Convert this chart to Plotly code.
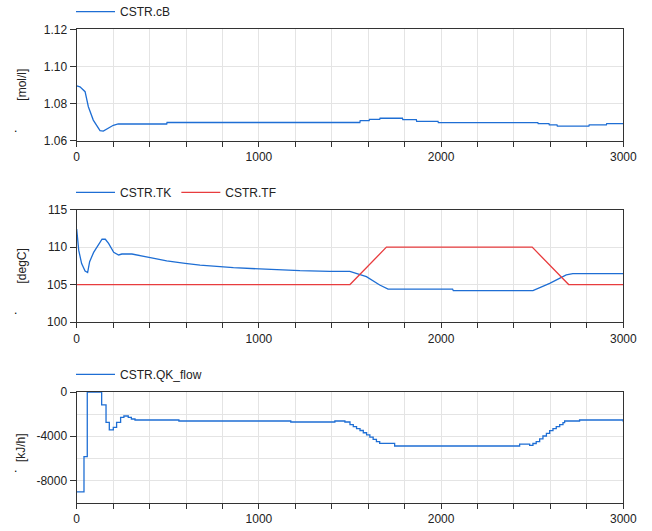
import plotly.graph_objects as go

W, H = 652, 531

# ---------------- data ----------------
cB_t = [0, 18, 46, 64, 91, 128, 146, 173, 201, 228, 494, 496, 1554, 1556, 1605, 1607,
        1663, 1665, 1788, 1790, 1864, 1866, 1983, 1985, 2531, 2533, 2592, 2594,
        2636, 2638, 2811, 2813, 2907, 2909, 3000]
cB_v = [1.0895, 1.089, 1.0864, 1.0783, 1.0711, 1.0654, 1.0652, 1.0667, 1.0683, 1.069,
        1.069, 1.0698, 1.0698, 1.0708, 1.0708, 1.0715, 1.0715, 1.0721, 1.0721, 1.0713,
        1.0713, 1.0704, 1.0704, 1.0697, 1.0697, 1.0692, 1.0692, 1.0685, 1.0685, 1.0679,
        1.0679, 1.0685, 1.0685, 1.0692, 1.0692]

TK_t = [0, 11, 27, 46, 60, 71, 93, 121, 139, 157, 175, 203, 230, 248, 303, 404, 494,
        595, 677, 860, 1043, 1225, 1390, 1499, 1590, 1663, 1709, 2063, 2067, 2504,
        2596, 2687, 2723, 3000]
TK_v = [112.4, 109.6, 107.8, 106.8, 106.6, 108.05, 109.3, 110.3, 111.05, 111.05, 110.5,
        109.3, 108.95, 109.08, 109.08, 108.6, 108.15, 107.84, 107.6, 107.25, 107.04,
        106.85, 106.77, 106.77, 106.05, 104.94, 104.4, 104.4, 104.18, 104.18, 105.17,
        106.28, 106.45, 106.45]

TF_t = [0, 1500, 1700, 2500, 2700, 3000]
TF_v = [105, 105, 110, 110, 105, 105]

QK_t = [0, 40, 58, 137, 161, 179, 201, 219, 241, 259, 283, 300, 320, 561, 1175, 1417,
        1472, 1500, 1518, 1536, 1555, 1573, 1591, 1609, 1627, 1645, 1663, 1745, 2431,
        2486, 2504, 2522, 2541, 2559, 2578, 2596, 2614, 2632, 2651, 2669, 2678, 2760, 3000]
QK_v = [-9030, -5840, 0, -1170, -2740, -3430, -3190, -2740, -2290, -2170, -2290, -2440,
        -2530, -2620, -2710, -2620, -2710, -2950, -3130, -3300, -3480, -3680, -3880,
        -4080, -4280, -4480, -4640, -4880, -4700, -4820, -4650, -4490, -4230, -3975,
        -3730, -3490, -3300, -3130, -2950, -2770, -2620, -2530, -2710]

x_ticks = [0, 1000, 2000, 3000]
y1_ticks = [1.06, 1.08, 1.10, 1.12]
y2_ticks = [100, 105, 110, 115]
y3_ticks = [-8000, -4000, 0]
y3_text = ["-8000", "-4000", "0"]

names = ["CSTR.cB", "CSTR.TK", "CSTR.TF", "CSTR.QK_flow"]
units = ["[mol/l]", "[degC]", "[kJ/h]"]

BLUE = "rgb(30,110,212)"
RED = "rgb(232,60,62)"
FONT = "Liberation Sans, Arial, sans-serif"

# ---------------- layout geometry (px) ----------------
xl, xr = 76.7, 623.3
panels = [(29.3, 140.7), (209.7, 322.0), (392.0, 502.7)]


def ydom(p):
    return [1 - p[1] / H, 1 - p[0] / H]


fig = go.Figure()
fig.add_trace(go.Scatter(x=cB_t, y=cB_v, name=names[0], mode="lines",
                         line=dict(color=BLUE, width=1.3), xaxis="x", yaxis="y",
                         legend="legend"))
fig.add_trace(go.Scatter(x=TK_t, y=TK_v, name=names[1], mode="lines",
                         line=dict(color=BLUE, width=1.3), xaxis="x2", yaxis="y2",
                         legend="legend2"))
fig.add_trace(go.Scatter(x=TF_t, y=TF_v, name=names[2], mode="lines",
                         line=dict(color=RED, width=1.3), xaxis="x2", yaxis="y2",
                         legend="legend2"))
fig.add_trace(go.Scatter(x=QK_t, y=QK_v, name=names[3], mode="lines",
                         line=dict(color=BLUE, width=1.3, shape="hv"), xaxis="x3", yaxis="y3",
                         legend="legend3"))

AX_COL = "#333333"
GRID = "#e4e4e4"

xcommon = dict(range=[0, 3000], domain=[xl / W, xr / W], tickmode="array",
               tickvals=x_ticks, ticks="outside", ticklen=5, tickcolor=AX_COL,
               showline=True, linecolor=AX_COL, linewidth=1.3, mirror=True,
               showgrid=True, gridcolor=GRID, gridwidth=1, zeroline=False,
               automargin=False,
               minor=dict(tickmode="linear", tick0=0, dtick=200, ticks="outside",
                          ticklen=5, tickcolor=AX_COL, showgrid=True, gridcolor=GRID),
               tickfont=dict(size=12, color="#222"))
ycommon = dict(ticks="outside", ticklen=6, tickcolor=AX_COL, showline=True,
               linecolor=AX_COL, linewidth=1.3, mirror=True, showgrid=True,
               gridcolor=GRID, gridwidth=1, zeroline=False, automargin=False,
               tickfont=dict(size=12, color="#222"))

fig.update_layout(
    width=W, height=H,
    margin=dict(l=0, r=0, t=0, b=0, autoexpand=False),
    paper_bgcolor="white", plot_bgcolor="white",
    font=dict(family=FONT, size=12, color="#222"),
    xaxis=dict(**xcommon, anchor="y"),
    xaxis2=dict(**xcommon, anchor="y2"),
    xaxis3=dict(**xcommon, anchor="y3"),
    yaxis=dict(**ycommon, domain=ydom(panels[0]), range=[1.06, 1.12], anchor="x",
               tickmode="array", tickvals=y1_ticks, tickformat=".2f"),
    yaxis2=dict(**ycommon, domain=ydom(panels[1]), range=[100, 115], anchor="x2",
                tickmode="array", tickvals=y2_ticks),
    yaxis3=dict(**ycommon, domain=ydom(panels[2]), range=[-10000, 0], anchor="x3",
                tickmode="array", tickvals=y3_ticks, ticktext=y3_text,
                minor=dict(tickmode="linear", tick0=0, dtick=2000, ticks="",
                           showgrid=True, gridcolor=GRID)),
    showlegend=True,
)

leg = dict(orientation="h", xanchor="left", yanchor="middle", x=71 / W,
           bgcolor="rgba(0,0,0,0)", borderwidth=0, font=dict(size=12, color="#222"),
           itemwidth=39)
fig.update_layout(
    legend=dict(**leg, y=1 - 11.7 / H),
    legend2=dict(**leg, y=1 - 192.3 / H),
    legend3=dict(**leg, y=1 - 374.3 / H),
)

ann = []
for u, p in zip(units, panels):
    ann.append(dict(text=u, x=21.7 / W, y=1 - (p[0] + p[1]) / 2 / H, xref="paper",
                    yref="paper", textangle=-90, showarrow=False,
                    font=dict(size=12, color="#222"), xanchor="center", yanchor="middle"))
for yy in [137, 319, 477]:
    ann.append(dict(text=".", x=15 / W, y=1 - yy / H, xref="paper",
                    yref="paper", showarrow=False, font=dict(size=12, color="#000"),
                    xanchor="center", yanchor="bottom"))
fig.update_layout(annotations=ann)

fig.write_html("out.html", config={"displayModeBar": False},
               post_script="document.body.style.margin='0';")
